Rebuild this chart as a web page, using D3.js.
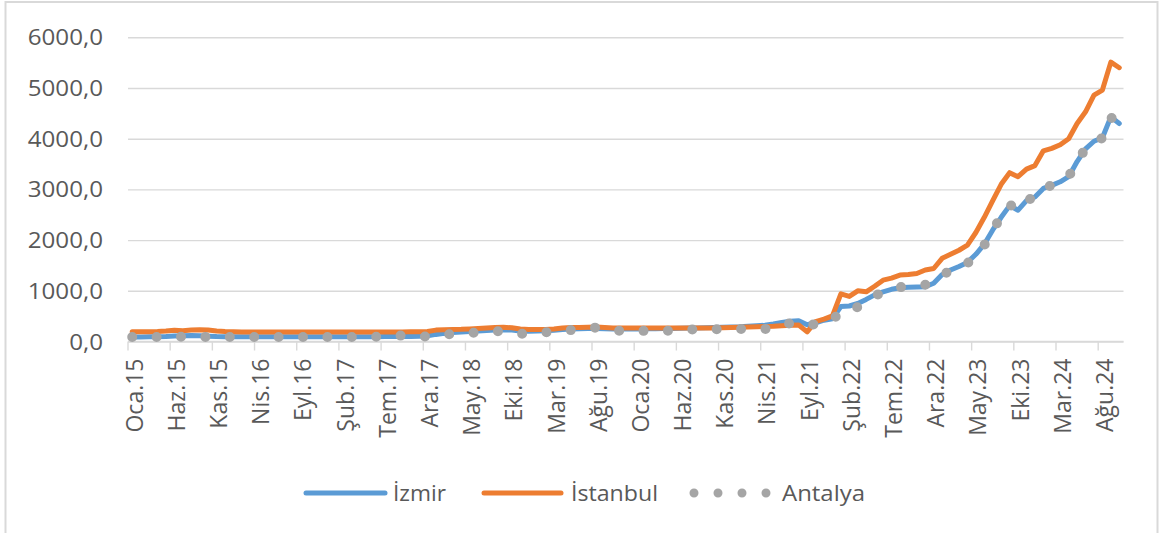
<!DOCTYPE html>
<html>
<head>
<meta charset="utf-8">
<script src="https://cdn.jsdelivr.net/npm/d3@7"></script>
<style>
  html, body { margin: 0; padding: 0; background: #ffffff; }
  svg { display: block; }
  text { font-family: "Open Sans", "Noto Sans", sans-serif; fill: #595959; }
</style>
</head>
<body>
<svg id="chart" width="1165" height="533"></svg>
<script>
// Turkish month abbreviations and the year range covered (Oca.15 .. Eki.24)
const monthNames = ["Oca", "Şub", "Mar", "Nis", "May", "Haz", "Tem", "Ağu", "Eyl", "Eki", "Kas", "Ara"];
const startYear = 15;
const monthCount = 118;

// Y axis tick values
const yTicks = [0, 1000, 2000, 3000, 4000, 5000, 6000];

// Monthly values per city
const izmir = [
  90, 90, 92, 95, 100, 110, 115, 120, 115, 105, 98, 95,
  95, 95, 95, 95, 95, 95, 95, 95, 95, 95, 95, 95,
  95, 95, 95, 96, 96, 96, 97, 97, 98, 100, 105, 112,
  140, 160, 175, 185, 195, 205, 215, 225, 230, 225, 205, 200,
  205, 210, 220, 235, 245, 250, 255, 258, 252, 248, 248, 248,
  248, 250, 252, 255, 258, 262, 265, 268, 272, 276, 280, 285,
  290, 300, 310, 320, 345, 375, 400, 410, 330, 370, 420, 450,
  690, 700, 750, 830, 920, 980, 1030, 1060, 1070, 1075, 1080, 1150,
  1320, 1410, 1480, 1560, 1720, 1920, 2200, 2450, 2680, 2590, 2780, 2850,
  3020, 3080, 3150, 3250, 3550, 3800, 3950, 4020, 4430, 4300
];

const istanbul = [
  190, 190, 192, 195, 205, 220, 212, 225, 230, 225, 205, 195,
  190, 188, 188, 187, 187, 186, 186, 186, 186, 186, 186, 186,
  186, 186, 186, 186, 187, 187, 187, 187, 188, 190, 192, 196,
  225, 232, 236, 240, 248, 255, 265, 275, 280, 270, 245, 235,
  235, 238, 245, 268, 275, 276, 280, 285, 275, 268, 265, 265,
  265, 265, 265, 265, 265, 265, 265, 266, 266, 267, 270, 275,
  280, 285, 290, 295, 300, 310, 320, 325, 190, 390, 440, 505,
  940, 890, 1000, 980, 1090, 1210, 1250, 1310, 1320, 1340, 1410, 1440,
  1640, 1720, 1800, 1900, 2150, 2450, 2780, 3100, 3330, 3250, 3400, 3470,
  3760, 3810, 3880, 4000, 4300, 4530, 4860, 4960, 5510, 5400
];

const antalya = [
  90, 90, 90, 90, 92, 95, 95, 95, 92, 90, 90, 90,
  90, 90, 90, 90, 90, 90, 90, 90, 90, 90, 90, 90,
  90, 90, 90, 90, 92, 95, 100, 110, 118, 108, 98, 100,
  120, 135, 150, 160, 170, 175, 190, 205, 200, 175, 150, 165,
  175, 180, 195, 215, 225, 245, 265, 275, 240, 215, 210, 210,
  210, 210, 212, 212, 212, 225, 235, 238, 240, 242, 244, 245,
  245, 245, 245, 248, 255, 320, 360, 355, 330, 340, 380, 420,
  600, 640, 680, 800, 900, 970, 1040, 1070, 1090, 1110, 1120, 1190,
  1300, 1410, 1490, 1540, 1720, 1900, 2200, 2460, 2700, 2600, 2780, 2850,
  3030, 3080, 3160, 3250, 3560, 3800, 3960, 4010, 4420, 4300
];

const seriesNames = ["İzmir", "İstanbul", "Antalya"];
const seriesColors = ["#5B9BD5", "#ED7D31", "#A5A5A5"];

// Category labels like "Oca.15"
const categories = d3.range(monthCount).map(i =>
  monthNames[i % 12] + "." + String(startYear + Math.floor(i / 12)).padStart(2, "0"));
const labelStep = 5;
const tickLabels = categories.filter((c, i) => i % labelStep === 0);

const svg = d3.select("#chart");
const W = 1165, H = 533;

svg.append("rect").attr("width", W).attr("height", H).attr("fill", "#ffffff");
// chart frame
svg.append("rect")
  .attr("x", 5.5).attr("y", 2).attr("width", 1152).attr("height", 560)
  .attr("fill", "none").attr("stroke", "#D9D9D9").attr("stroke-width", 2);

const plot = { left: 128, right: 1123.5, top: 37.3, bottom: 341.5 };

const x = d3.scaleBand().domain(categories).range([plot.left, plot.right]).padding(0);
const y = d3.scaleLinear().domain([0, 6000]).range([plot.bottom, plot.top]);
const cx = c => x(c) + x.bandwidth() / 2;

// horizontal gridlines + y labels
const yAxis = d3.axisLeft(y)
  .tickValues(yTicks)
  .tickSize(-(plot.right - plot.left))
  .tickPadding(25)
  .tickFormat(d => d3.format(".1f")(d).replace(".", ","));

const gy = svg.append("g")
  .attr("transform", `translate(${plot.left},0)`)
  .call(yAxis);
gy.select(".domain").remove();
gy.selectAll(".tick line").attr("stroke", "#D9D9D9").attr("stroke-width", 1.4);
gy.selectAll(".tick text")
  .attr("font-size", 21)
  .attr("fill", "#595959")
  .attr("dy", "0.36em")
  .each(function () {
    // widen the value labels slightly, keeping each label's own proportions
    const w = this.getComputedTextLength();
    d3.select(this).attr("textLength", w * 1.15).attr("lengthAdjust", "spacingAndGlyphs");
  });

// category axis line and tick marks every five months
const gx = svg.append("g");
gx.append("line")
  .attr("x1", plot.left).attr("x2", plot.right)
  .attr("y1", plot.bottom).attr("y2", plot.bottom)
  .attr("stroke", "#D9D9D9").attr("stroke-width", 1.4);
gx.selectAll("line.tick")
  .data(tickLabels)
  .join("line")
  .attr("class", "tick")
  .attr("x1", d => x(d)).attr("x2", d => x(d))
  .attr("y1", plot.bottom).attr("y2", plot.bottom + 9)
  .attr("stroke", "#D9D9D9").attr("stroke-width", 1.4);

gx.selectAll("text.lbl")
  .data(tickLabels)
  .join("text")
  .attr("class", "lbl")
  .attr("font-size", 23)
  .attr("text-anchor", "end")
  .attr("transform", d => `translate(${cx(d) + 10.5},${plot.bottom + 17}) rotate(-90)`)
  .text(d => d);

// series lines
const line = d3.line()
  .x((d, i) => cx(categories[i]))
  .y(d => y(d));

const lines = svg.append("g");
lines.append("path")
  .datum(izmir)
  .attr("d", line)
  .attr("fill", "none")
  .attr("stroke", seriesColors[0])
  .attr("stroke-width", 5)
  .attr("stroke-linejoin", "round")
  .attr("stroke-linecap", "round");

lines.append("path")
  .datum(istanbul)
  .attr("d", line)
  .attr("fill", "none")
  .attr("stroke", seriesColors[1])
  .attr("stroke-width", 5)
  .attr("stroke-linejoin", "round")
  .attr("stroke-linecap", "round");

lines.append("path")
  .datum(antalya)
  .attr("d", line)
  .attr("fill", "none")
  .attr("stroke", seriesColors[2])
  .attr("stroke-width", 10)
  .attr("stroke-linecap", "round")
  .attr("stroke-dasharray", "0 24.4");

// legend
const legendY = 493;
const legendItems = [
  { name: seriesNames[0], color: seriesColors[0], x0: 306, x1: 385, tx: 393, tl: 53, dotted: false },
  { name: seriesNames[1], color: seriesColors[1], x0: 484, x1: 561, tx: 571, tl: 87, dotted: false },
  { name: seriesNames[2], color: seriesColors[2], x0: 694, x1: 767, tx: 782, tl: 83, dotted: true }
];
const lg = svg.append("g");
legendItems.forEach(it => {
  lg.append("line")
    .attr("x1", it.x0).attr("x2", it.x1)
    .attr("y1", legendY).attr("y2", legendY)
    .attr("stroke", it.color)
    .attr("stroke-width", it.dotted ? 9 : 5)
    .attr("stroke-linecap", "round")
    .attr("stroke-dasharray", it.dotted ? "0 24" : null);
  lg.append("text")
    .attr("x", it.tx).attr("y", legendY)
    .attr("dy", "0.36em")
    .attr("font-size", 22)
    .attr("textLength", it.tl)
    .attr("lengthAdjust", "spacingAndGlyphs")
    .text(it.name);
});
</script>
</body>
</html>
